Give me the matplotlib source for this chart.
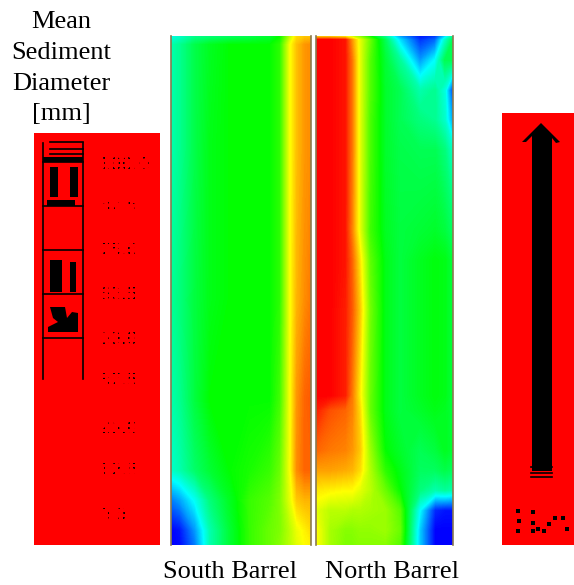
import numpy as np
import matplotlib.pyplot as plt
from matplotlib.colors import LinearSegmentedColormap
from matplotlib.patches import Rectangle, Polygon

# 0 = blue, .25 = cyan, .5 = green, .75 = yellow, 1 = red
south_x = [171, 180, 195, 210, 230, 250, 270, 280, 290, 297, 305, 311]
south_y = [36, 45, 150, 300, 400, 470, 500, 530, 545]
south_z = [
    [.27, .30, .36, .38, .40, .42, .45, .50, .68, .78, .80, .80],
    [.33, .36, .43, .47, .50, .50, .50, .54, .74, .81, .85, .86],
    [.33, .36, .43, .48, .50, .50, .50, .54, .74, .81, .85, .86],
    [.35, .38, .44, .48, .50, .50, .50, .54, .74, .82, .86, .88],
    [.33, .36, .44, .50, .50, .50, .50, .56, .74, .85, .90, .91],
    [.30, .33, .40, .45, .50, .52, .55, .60, .74, .86, .90, .90],
    [.12, .16, .26, .38, .47, .55, .58, .62, .72, .80, .82, .82],
    [.00, .02, .15, .33, .45, .55, .60, .62, .68, .73, .76, .78],
    [.00, .01, .12, .33, .45, .55, .60, .63, .68, .72, .75, .76],
]

north_x = [316, 330, 345, 352, 360, 370, 385, 400, 420, 435, 445, 453]
north_y = [36, 40, 60, 90, 120, 150, 230, 260, 310, 395, 410, 450, 470, 490, 510, 530, 545]
north_z = [
    [.75, .75, .72, .68, .62, .50, .35, .15, .02, .05, .20, .35],
    [1.0, 1.0, .98, .85, .72, .60, .42, .22, .05, .10, .30, .42],
    [1.0, 1.0, .98, .88, .72, .58, .45, .35, .15, .25, .42, .42],
    [1.0, 1.0, .98, .88, .72, .58, .46, .42, .33, .36, .28, .05],
    [1.0, 1.0, .98, .88, .72, .57, .46, .42, .38, .36, .30, .15],
    [1.0, 1.0, .98, .88, .72, .57, .46, .43, .42, .42, .38, .30],
    [1.0, 1.0, .98, .87, .72, .56, .47, .44, .45, .46, .44, .40],
    [1.0, 1.0, .98, .90, .77, .59, .48, .44, .47, .49, .48, .44],
    [1.0, 1.0, .97, .91, .80, .61, .48, .44, .47, .49, .48, .44],
    [1.0, 1.0, .97, .88, .76, .60, .48, .44, .47, .49, .48, .44],
    [.97, .92, .90, .87, .78, .60, .48, .44, .46, .48, .47, .44],
    [.90, .88, .87, .85, .80, .65, .50, .46, .42, .44, .47, .45],
    [.84, .84, .83, .82, .78, .67, .54, .48, .41, .41, .43, .41],
    [.77, .76, .75, .75, .72, .68, .60, .50, .38, .33, .35, .33],
    [.72, .68, .68, .67, .67, .66, .65, .58, .25, .04, .02, .02],
    [.75, .66, .63, .63, .64, .64, .65, .60, .20, .00, .00, .00],
    [.75, .66, .62, .62, .63, .63, .63, .58, .20, .00, .00, .00],
]

tick_labels = ['100.0', '87.5', '75.0', '62.5', '50.0', '37.5', '25.0', '12.5', '0.0']
tick_y = [165, 207, 251, 295, 339, 381, 428, 471, 516]
title_lines = ['Mean', 'Sediment', 'Diameter', '[mm]']
title_y = [28, 59, 90, 120]

# leftover specks at the foot of the right hand bar
speck_x = [518, 533, 519, 533, 518, 533, 538, 544, 549, 555, 563, 567]
speck_y = [511, 512, 521, 523, 531, 531, 529, 531, 524, 518, 518, 529]

if __name__ == '__main__':

  cmap = LinearSegmentedColormap.from_list('rainbow5', ['#0000ff', '#00ffff', '#00ff00', '#ffff00', '#ff0000'])

  fig = plt.figure(figsize=(5.74, 5.85), dpi=100)
  ax = fig.add_axes([0, 0, 1, 1])
  ax.set_xlim(0, 574)
  ax.set_ylim(585, 0)
  ax.axis('off')

  levels = np.linspace(0, 1, 256)
  for xs, ys, zs in [(south_x, south_y, south_z), (north_x, north_y, north_z)]:
    ax.contourf(xs, ys, zs, levels=levels, cmap=cmap, vmin=0, vmax=1, extend='both', antialiased=False)
    ax.plot([xs[0], xs[0]], [ys[0], ys[-1]], color='#8a7a50', lw=1.2)
    ax.plot([xs[-1], xs[-1]], [ys[0], ys[-1]], color='#8a7a50', lw=1.2)

  # colour bars, flattened to red and black
  ax.add_patch(Rectangle((34, 133), 126, 412, fc='#ff0000', ec='none'))
  ax.add_patch(Rectangle((502, 113), 72, 432, fc='#ff0000', ec='none'))

  for y, lab in zip(tick_y, tick_labels):
    ax.text(99, y, lab, ha='left', va='center', fontsize=13, family='DejaVu Sans', color='black', zorder=3)
  # break the labels up into specks like the degraded original
  for x in np.arange(96, 159, 5.0):
    ax.plot([x, x], [150, 530], color='#ff0000', lw=2.2, solid_capstyle='butt', zorder=4)
  for y in np.arange(150, 531, 5.0):
    ax.plot([94, 159], [y, y], color='#ff0000', lw=2.2, solid_capstyle='butt', zorder=4)

  for x in [42.7, 82.7]:
    ax.plot([x, x], [143, 379], color='black', lw=1.2)
  for y in [162, 206, 250, 294, 338]:
    ax.plot([43, 83], [y, y], color='black', lw=1.2)
  for y in [142, 149, 154]:
    ax.plot([50, 83], [y, y], color='black', lw=1.2)
  ax.add_patch(Rectangle((43, 157), 40, 5, fc='black', ec='none'))
  for x0, y0, w, h in [(50, 167, 8, 30), (70, 167, 8, 30), (47, 200, 28, 6), (50, 260, 12, 32), (70, 262, 6, 30)]:
    ax.add_patch(Rectangle((x0, y0), w, h, fc='black', ec='none'))
  ax.add_patch(Polygon([(50, 307), (65, 307), (67, 318), (72, 312), (78, 313), (78, 332),
                        (48, 332), (48, 327), (58, 322), (53, 318)], fc='black', ec='none'))

  ax.add_patch(Rectangle((532, 145), 20, 326, fc='black', ec='none'))
  ax.add_patch(Polygon([(541, 123), (560, 142), (556, 143), (552, 138), (552, 150),
                        (532, 150), (532, 136), (526, 142), (522, 142)], fc='black', ec='none'))
  for y in [467, 473, 477]:
    ax.plot([531, 552], [y, y], color='black', lw=1.2)
  ax.scatter(speck_x, speck_y, s=8, marker='s', color='black', linewidths=0)

  for y, line in zip(title_y, title_lines):
    ax.text(61, y, line, ha='center', va='baseline', fontsize=19, family='Liberation Serif')
  ax.text(230, 578, 'South Barrel', ha='center', va='baseline', fontsize=19, family='Liberation Serif')
  ax.text(392, 578, 'North Barrel', ha='center', va='baseline', fontsize=19, family='Liberation Serif')

  fig.savefig('out.png', dpi=100)
